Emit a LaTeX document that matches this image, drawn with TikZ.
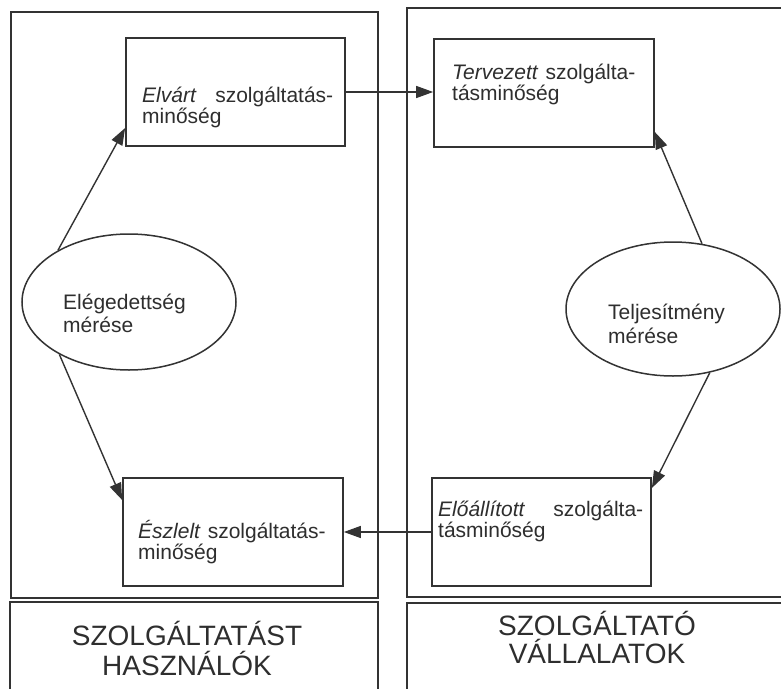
\documentclass[tikz,border=0pt]{standalone}
\usepackage{fontspec}
\setmainfont{Liberation Sans}
\usetikzlibrary{arrows.meta,shapes.geometric,calc}
\definecolor{ink}{HTML}{333333}
\definecolor{txtc}{HTML}{2E2E2E}
\begin{document}
\begin{tikzpicture}[x=1pt,y=-1pt,
  panel/.style={draw=ink, line width=1.4pt},
  qbox/.style={rectangle, draw=ink, line width=1.7pt, minimum height=108pt, inner sep=0pt},
  meas/.style={ellipse, draw=ink, line width=1.5pt, minimum width=214pt, minimum height=136pt, inner sep=0pt},
  txt/.style={anchor=base west, inner sep=0pt, text=txtc, font=\fontsize{21}{21.5}\selectfont},
  big/.style={anchor=base, inner sep=0pt, text=txtc, text width=330pt, align=center},
  conn/.style={draw=ink, line width=1.4pt, -{Triangle[length=17pt,width=12pt]}}]
\fill[white] (0,0) rectangle (781,688);
\clip (0,0) rectangle (781,688);
% panels
\draw[panel] (11,12) rectangle (378,598);
\draw[panel] (407,8) rectangle (800,597);
\draw[panel] (10,602) rectangle (378,720);
\draw[panel] (407,603) rectangle (800,720);
% boxes
\node[qbox, minimum width=219pt] (elv) at (235.5,92) {};
\node[qbox, minimum width=220pt] (ter) at (544,93) {};
\node[qbox, minimum width=220pt] (esz) at (233,532) {};
\node[qbox, minimum width=219pt] (elo) at (541.5,532) {};
% ellipses
\node[meas] (mel) at (129,302) {};
\node[meas, minimum height=134pt] (mtj) at (673,309) {};
% texts
\node[txt, text width=191pt] (telv) at (142,102) {\textit{Elvárt}\hfill szolgáltatás-\\minőség};
\node[txt, text width=200pt, align=left] (tter) at (452,79) {\textit{Tervezett} szolgálta-\\tásminőség};
\node[txt, text width=210pt, align=left] (tesz) at (138,538) {\textit{Észlelt} szolgáltatás-\\minőség};
\node[txt, text width=205pt] (telo) at (438,516) {\textit{Előállított}\hfill szolgálta-\\tásminőség};
\node[txt, text width=150pt, align=left, font=\fontsize{21}{23}\selectfont] (tmel) at (63,309) {Elégedettség\\mérése};
\node[txt, text width=150pt, align=left, font=\fontsize{21}{24}\selectfont] (tmtj) at (608,319) {Teljesítmény\\mérése};
\node[big, font=\fontsize{28}{30}\selectfont] (lhas) at (187,645) {SZOLGÁLTATÁST\\HASZNÁLÓK};
\node[big, font=\fontsize{28}{28}\selectfont] (lval) at (597,635) {SZOLGÁLTATÓ\\VÁLLALATOK};
% connectors
\draw[conn] (mel.144) -- ([yshift=-36pt]elv.west);
\draw[conn] (mel.217) -- ([yshift=32pt]esz.west);
\draw[conn] (mtj.66) -- ([yshift=-39pt]ter.east);
\draw[conn] (mtj.300) -- ([yshift=44pt]elo.east);
\draw[conn] (elv.east) -- (elv.east -| ter.west);
\draw[conn] (elo.west) -- (elo.west -| esz.east);
\end{tikzpicture}
\end{document}
